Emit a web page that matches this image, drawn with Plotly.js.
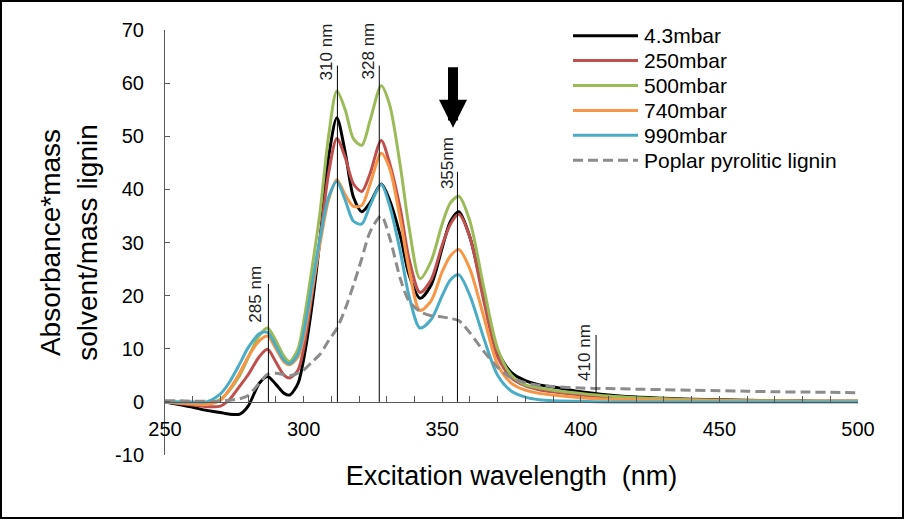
<!DOCTYPE html>
<html>
<head>
<meta charset="utf-8">
<script src="https://cdn.plot.ly/plotly-3.0.1.min.js"></script>
<style>
  html, body { margin: 0; padding: 0; background: #fff; }
  #chart { width: 905px; height: 520px; }
</style>
</head>
<body>
<div id="chart"></div>
<script>
// ---- data ----
const wavelength = [250,255,260,265,270,273,277,280,284,287,290,293,295,298,300,303,306,309,312,315,318,321,324,328,331,335,338,342,346,350,353,356,360,365,370,375,380,385,390,400,410,420,430,440,450,460,470,480,490,500];

const s4_3mbar = [0,-0.5,-1.0,-1.6,-2.0,-2.3,-2.3,-0.8,3.5,4.8,3.3,1.6,1.3,3.5,8,18,31,46,53.5,47,38.5,35.8,37.5,41,38,31,24,19.5,22,29,34,35.8,31,20,9.5,5.5,4,3.2,2.8,1.9,1.3,0.9,0.7,0.5,0.4,0.3,0.2,0.15,0.1,0.1];
const s250mbar = [0,-0.3,-0.6,-0.9,-0.8,0.3,3,5.1,8.5,9.9,7.5,5,4.5,6,10,20,31,43,49.6,46,41,39.6,43,49.2,45,36,27,20.6,23,29.5,33.5,35.3,31,19,8.5,4.5,3,2.3,1.9,1.3,0.9,0.6,0.5,0.4,0.3,0.2,0.2,0.1,0.1,0.1];
const s500mbar = [0,0,-0.2,-0.3,0.5,2,5,8.3,12.5,13.9,11.5,8.5,7.6,10,15,25,36,50,58.5,55,49.5,48.3,53,59.5,56,44,33,23.2,26.5,33.5,37.5,38.7,34,21.5,10,5,3.2,2.6,2.2,1.6,1.1,0.8,0.6,0.4,0.3,0.2,0.2,0.1,0.1,0.1];
const s740mbar = [0,-0.2,-0.4,-0.5,0.3,2.2,5.5,8.5,11.5,12.4,10,7.5,7,8.5,12,21,30,38,41.8,39,36.8,37,41,46.8,44,34,25,17.2,19,24.5,27.5,28.7,25,16,7,3.5,2.2,1.6,1.3,0.8,0.5,0.4,0.3,0.2,0.2,0.1,0.1,0.1,0.1,0.1];
const s990mbar = [0,0,0,0,1.5,3.5,7.2,10.2,12.8,13.1,10.5,7.8,7.2,9,13,22,31,38.5,41.5,38,34,33.5,37,40.9,37,28,20,13.9,15.5,20,23,23.9,20,12,5,2,0.9,0.4,0.2,0.1,0,0,0,0,0,0,0,0,0,0];
const sPoplar  = [0.2,0.2,0.1,0.1,0.1,0.3,0.6,1.2,3.5,5.2,5.4,5.1,4.9,5.4,6,7.5,9,11.5,13.8,17.5,22,27,32,35,31,23,19,17,16.2,16,15.7,15.3,13,9.5,6.5,4.5,3.6,3.1,2.9,2.6,2.5,2.4,2.3,2.2,2.1,2,1.9,1.85,1.8,1.7];

const seriesNames = ['4.3mbar','250mbar','500mbar','740mbar','990mbar','Poplar pyrolitic lignin'];
const seriesValues = [s4_3mbar, s250mbar, s500mbar, s740mbar, s990mbar, sPoplar];

// marked wavelengths (line position on the axis, label text)
const markNm     = [287.3, 312.2, 327.3, 355.5, 405.5];
const markLabels = ['285 nm','310 nm','328 nm','355nm','410 nm'];

const xTickVals = [250,300,350,400,450,500];
const yTickVals = [-10,0,10,20,30,40,50,60,70];

// ---- styling ----
const colors = ['#000000','#C0504D','#9BBB59','#F79646','#4BACC6','#8C8C8C'];
const dashes = ['solid','solid','solid','solid','solid','10px,5px'];
const FONT = 'Liberation Sans, Arial, Helvetica, sans-serif';
const axisColor = '#595959';

// plot-area geometry (px) used to place paper-referenced decorations
const M = { l: 165, r: 47, t: 30, b: 65 };
const W = 905, H = 520;
const PW = W - M.l - M.r, PH = H - M.t - M.b;
const px2paperX = px => (px - M.l) / PW;
const px2paperY = py => (H - M.b - py) / PH;

const traces = seriesNames.map((name, i) => ({
  type: 'scatter',
  mode: 'lines',
  name: name,
  x: wavelength,
  y: seriesValues[i],
  line: { color: colors[i], width: 3, shape: 'spline', smoothing: 0.8, dash: dashes[i] },
  hoverinfo: 'skip',
  showlegend: false
}));

// vertical marker lines: [bottom, top] in data units
const lineSpans = [[0,22.2],[0,63.3],[0,63.3],[0,43.3],[1.8,12.6]];
// label centres in data units
const labelPos = [[282.5,20.2],[308.3,65.9],[323.3,66.0],[352.0,44.9],[401.5,9.4]];

const shapes = markNm.map((x, i) => ({
  type: 'line', xref: 'x', yref: 'y',
  x0: x, x1: x, y0: lineSpans[i][0], y1: lineSpans[i][1],
  line: { color: '#000', width: 1 }
}));
// outer frame
shapes.push({
  type: 'rect', xref: 'paper', yref: 'paper',
  x0: px2paperX(1), x1: px2paperX(903), y0: px2paperY(518), y1: px2paperY(1),
  line: { color: '#000', width: 2 }, layer: 'above'
});

const annotations = markLabels.map((t, i) => ({
  text: t, x: labelPos[i][0], y: labelPos[i][1], xref: 'x', yref: 'y',
  showarrow: false, textangle: -90, xanchor: 'center', yanchor: 'middle',
  font: { family: FONT, size: 17, color: '#222' }
}));
// thick downward arrow
annotations.push({
  text: '', x: 353.9, y: 51.6, xref: 'x', yref: 'y',
  showarrow: true, ax: 0, ay: -62, axref: 'pixel', ayref: 'pixel',
  arrowcolor: '#000', arrowwidth: 10, arrowhead: 2, arrowsize: 0.56
});

// legend (drawn with shapes + annotations for exact placement)
const legTop = 35.7, legStep = 24.9;
seriesNames.forEach((name, i) => {
  const cy = legTop + legStep * i;
  shapes.push({
    type: 'line', xref: 'paper', yref: 'paper',
    x0: px2paperX(573), x1: px2paperX(638), y0: px2paperY(cy), y1: px2paperY(cy),
    line: { color: colors[i], width: 3, dash: dashes[i] }
  });
  annotations.push({
    text: name, xref: 'paper', yref: 'paper',
    x: px2paperX(642), y: px2paperY(cy), xanchor: 'left', yanchor: 'middle',
    showarrow: false, font: { family: FONT, size: 21, color: '#000' }
  });
});

const layout = {
  width: W, height: H,
  margin: M,
  paper_bgcolor: '#fff', plot_bgcolor: '#fff',
  font: { family: FONT, size: 20, color: '#000' },
  showlegend: false,
  xaxis: {
    range: [250, 500], domain: [0, 1],
    anchor: 'free', position: 0.125,
    tickvals: xTickVals, ticktext: xTickVals.map(String),
    ticks: 'inside', ticklen: 6, tickcolor: axisColor, tickwidth: 1,
    minor: { dtick: 10, tick0: 250, ticks: 'inside', ticklen: 6, tickcolor: axisColor, tickwidth: 1, showgrid: false },
    showline: true, linecolor: axisColor, linewidth: 1,
    showgrid: false, zeroline: false,
    ticklabelstandoff: 9,
    tickfont: { family: FONT, size: 20, color: '#000' },
    title: { text: 'Excitation wavelength\u00a0 (nm)', font: { family: FONT, size: 27, color: '#000' }, standoff: 27 }
  },
  yaxis: {
    range: [-10, 70], domain: [0, 1],
    tickvals: yTickVals, ticktext: yTickVals.map(String),
    ticks: 'inside', ticklen: 5, tickcolor: axisColor, tickwidth: 1,
    showline: true, linecolor: axisColor, linewidth: 1,
    showgrid: false, zeroline: false,
    ticklabelstandoff: 16,
    tickfont: { family: FONT, size: 20, color: '#000' },
    title: { text: 'Absorbance*mass<br>solvent/mass lignin', font: { family: FONT, size: 28, color: '#000' }, standoff: 9 }
  },
  shapes: shapes,
  annotations: annotations
};

Plotly.newPlot('chart', traces, layout, { staticPlot: true, displayModeBar: false });
</script>
</body>
</html>
